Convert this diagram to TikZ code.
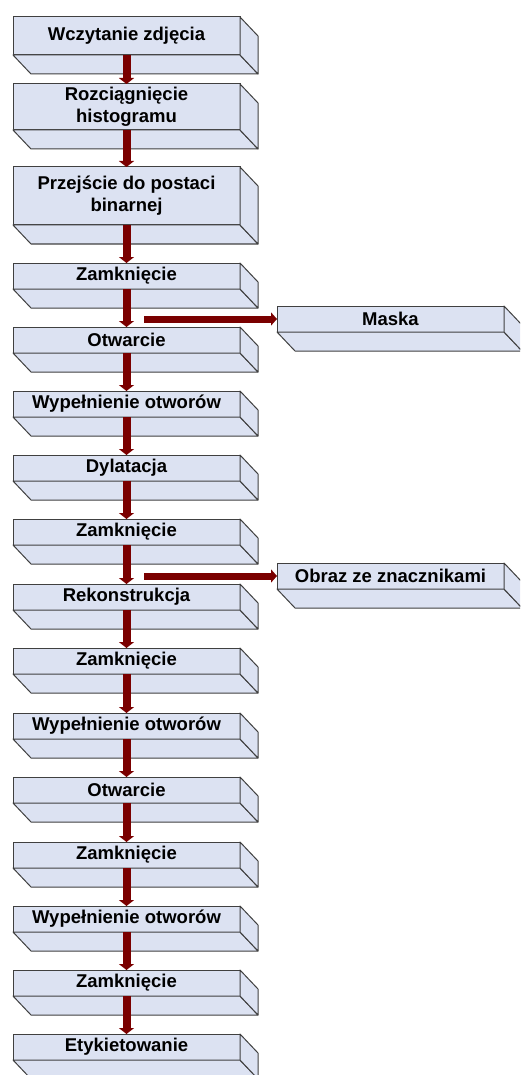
\documentclass[tikz,border=0pt]{standalone}
\usepackage{fontspec}
\setmainfont{Liberation Sans}
\usetikzlibrary{arrows.meta}
\definecolor{facefill}{RGB}{220,226,242}
\definecolor{edgegray}{RGB}{64,64,64}
\definecolor{arrowred}{RGB}{122,0,0}
\newcommand\sidefaces[1]{%
  \filldraw[face] (#1.south west) -- (#1.south east) -- ([shift={(18pt,-19pt)}]#1.south east) -- ([shift={(18pt,-19pt)}]#1.south west) -- cycle;
  \filldraw[face] (#1.north east) -- ([shift={(18pt,-19pt)}]#1.north east) -- ([shift={(18pt,-19pt)}]#1.south east) -- (#1.south east) -- cycle;}
\tikzset{
  face/.style={fill=facefill, draw=edgegray, line width=1pt, line join=round},
  frontbox/.style={rectangle, fill=facefill, draw=edgegray, line width=1pt, anchor=north west,
    minimum width=227pt, minimum height=26pt, inner sep=0pt, outer sep=0pt, align=center,
    font=\fontsize{18.5}{22}\selectfont\bfseries},
  conn/.style={draw=arrowred, line width=8pt, -{Triangle[width=15pt,length=6pt]}},
  sideconn/.style={draw=arrowred, line width=7pt, -{Triangle[width=13pt,length=6pt]}}
}
\begin{document}
\begin{tikzpicture}[x=1pt,y=1pt]
\useasboundingbox (0,0) rectangle (520,-1075);
\clip (0,0) rectangle (520,-1075);
\node[frontbox, minimum height=38pt] (b1) at (13,-17) {Wczytanie zdjęcia};
\sidefaces{b1}
\node[frontbox, minimum height=46pt] (b2) at (13,-84) {Rozciągnięcie\\histogramu};
\sidefaces{b2}
\node[frontbox, minimum height=58pt] (b3) at (13,-167) {Przejście do postaci\\binarnej};
\sidefaces{b3}
\node[frontbox] (b4) at (13,-263) {Zamknięcie};
\sidefaces{b4}
\node[frontbox] (b5) at (13,-327) {Otwarcie};
\sidefaces{b5}
\node[frontbox] (b6) at (13,-391) {Wypełnienie otworów};
\sidefaces{b6}
\node[frontbox] (b7) at (13,-455) {Dylatacja};
\sidefaces{b7}
\node[frontbox] (b8) at (13,-519) {Zamknięcie};
\sidefaces{b8}
\node[frontbox] (b9) at (13,-584) {Rekonstrukcja};
\sidefaces{b9}
\node[frontbox] (b10) at (13,-648) {Zamknięcie};
\sidefaces{b10}
\node[frontbox] (b11) at (13,-713) {Wypełnienie otworów};
\sidefaces{b11}
\node[frontbox] (b12) at (13,-777) {Otwarcie};
\sidefaces{b12}
\node[frontbox] (b13) at (13,-842) {Zamknięcie};
\sidefaces{b13}
\node[frontbox] (b14) at (13,-906) {Wypełnienie otworów};
\sidefaces{b14}
\node[frontbox] (b15) at (13,-970) {Zamknięcie};
\sidefaces{b15}
\node[frontbox] (b16) at (13,-1034) {Etykietowanie};
\sidefaces{b16}
\node[frontbox] (maska) at (277,-306) {Maska};
\sidefaces{maska}
\node[frontbox] (obraz) at (277,-563) {Obraz ze znacznikami};
\sidefaces{obraz}
\draw[conn] (b1.south) -- (b2.north);
\draw[conn] (b2.south) -- (b3.north);
\draw[conn] (b3.south) -- (b4.north);
\draw[conn] (b4.south) -- (b5.north);
\draw[conn] (b5.south) -- (b6.north);
\draw[conn] (b6.south) -- (b7.north);
\draw[conn] (b7.south) -- (b8.north);
\draw[conn] (b8.south) -- (b9.north);
\draw[conn] (b9.south) -- (b10.north);
\draw[conn] (b10.south) -- (b11.north);
\draw[conn] (b11.south) -- (b12.north);
\draw[conn] (b12.south) -- (b13.north);
\draw[conn] (b13.south) -- (b14.north);
\draw[conn] (b14.south) -- (b15.north);
\draw[conn] (b15.south) -- (b16.north);
\coordinate (s1) at (144,-319);
\coordinate (s2) at (144,-576);
\draw[sideconn] (s1) -- (maska.west);
\draw[sideconn] (s2) -- (obraz.west);
\end{tikzpicture}
\end{document}
